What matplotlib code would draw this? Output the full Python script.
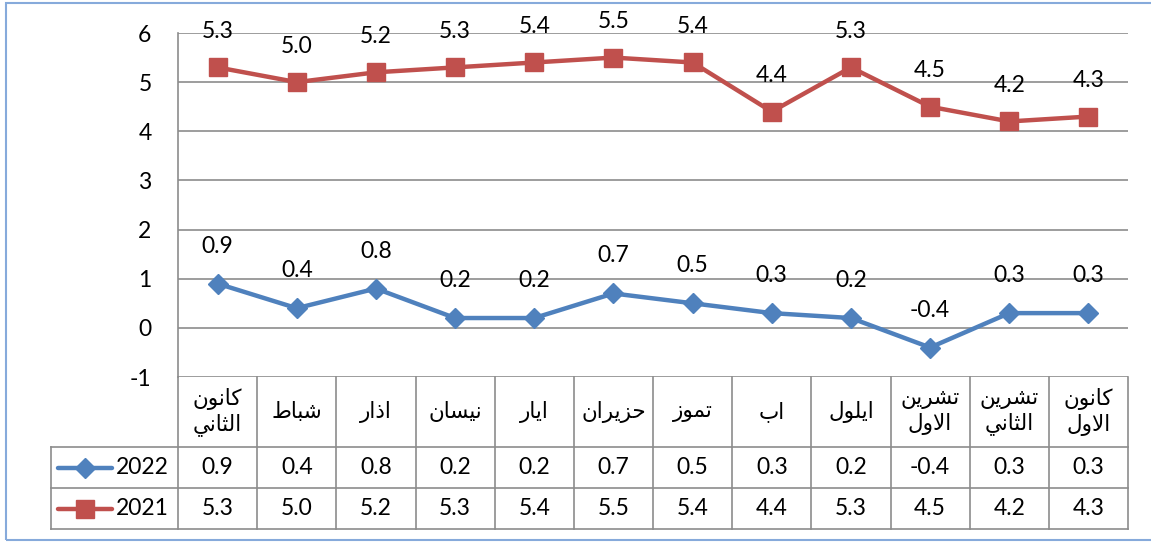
import matplotlib
matplotlib.use('Agg')
import matplotlib.pyplot as plt
from matplotlib.patches import Rectangle

plt.rcParams['font.family'] = ['Lato', 'DejaVu Sans']

months = ['كانون\nالثاني', 'شباط', 'اذار', 'نيسان', 'ايار', 'حزيران',
          'تموز', 'اب', 'ايلول', 'تشرين\nالاول', 'تشرين\nالثاني', 'كانون\nالاول']
y2022 = [0.9, 0.4, 0.8, 0.2, 0.2, 0.7, 0.5, 0.3, 0.2, -0.4, 0.3, 0.3]
y2021 = [5.3, 5.0, 5.2, 5.3, 5.4, 5.5, 5.4, 4.4, 5.3, 4.5, 4.2, 4.3]
yticks = [-1, 0, 1, 2, 3, 4, 5, 6]

BLUE = '#4F81BD'
RED = '#C0504D'
GRID = '#8C8C8C'
FS = 16.5

# formes de presentation arabes: isole, final, initial, median
FORMS = {
    'ا': ('\uFE8D', '\uFE8E', None, None),
    'ب': ('\uFE8F', '\uFE90', '\uFE91', '\uFE92'),
    'ت': ('\uFE95', '\uFE96', '\uFE97', '\uFE98'),
    'ث': ('\uFE99', '\uFE9A', '\uFE9B', '\uFE9C'),
    'ح': ('\uFEA1', '\uFEA2', '\uFEA3', '\uFEA4'),
    'ذ': ('\uFEAB', '\uFEAC', None, None),
    'ر': ('\uFEAD', '\uFEAE', None, None),
    'ز': ('\uFEAF', '\uFEB0', None, None),
    'س': ('\uFEB1', '\uFEB2', '\uFEB3', '\uFEB4'),
    'ش': ('\uFEB5', '\uFEB6', '\uFEB7', '\uFEB8'),
    'ط': ('\uFEC1', '\uFEC2', '\uFEC3', '\uFEC4'),
    'ك': ('\uFED9', '\uFEDA', '\uFEDB', '\uFEDC'),
    'ل': ('\uFEDD', '\uFEDE', '\uFEDF', '\uFEE0'),
    'م': ('\uFEE1', '\uFEE2', '\uFEE3', '\uFEE4'),
    'ن': ('\uFEE5', '\uFEE6', '\uFEE7', '\uFEE8'),
    'و': ('\uFEED', '\uFEEE', None, None),
    'ي': ('\uFEF1', '\uFEF2', '\uFEF3', '\uFEF4'),
}


def dual(c):
    return c in FORMS and FORMS[c][2] is not None


def shape_word(word):
    """Relie les lettres et inverse l'ordre pour un affichage RTL."""
    out = []
    i = 0
    n = len(word)
    while i < n:
        c = word[i]
        prev_j = i > 0 and dual(word[i - 1])
        if c == 'ل' and i + 1 < n and word[i + 1] == 'ا':
            out.append('\uFEFC' if prev_j else '\uFEFB')
            i += 2
            continue
        next_j = i + 1 < n and dual(c) and word[i + 1] in FORMS
        iso, fin, ini, med = FORMS[c]
        if prev_j and next_j:
            out.append(med)
        elif prev_j:
            out.append(fin)
        elif next_j:
            out.append(ini)
        else:
            out.append(iso)
        i += 1
    return ''.join(reversed(out))


def shape(text):
    return '\n'.join(shape_word(w) for w in text.split('\n'))


def main():
    W, H = 1151, 543
    fig = plt.figure(figsize=(W / 100, H / 100), dpi=100)

    x0, x1 = 178, 1128
    ytop, ybot = 33, 377
    tbot = 529
    tleft = 51
    n = len(months)
    colw = (x1 - x0) / n
    lead = (x0 - tleft) / colw

    ax = fig.add_axes([x0 / W, 1 - ybot / H, (x1 - x0) / W, (ybot - ytop) / H])
    xs = list(range(n))
    ax.set_xlim(-0.5, n - 0.5)
    ax.set_ylim(-1, 6)
    for s in ['top', 'right', 'bottom']:
        ax.spines[s].set_visible(False)
    ax.spines['left'].set_color(GRID)
    ax.spines['left'].set_linewidth(1.2)
    ax.set_xticks([])
    ax.set_yticks(yticks)
    ax.set_yticklabels([str(t) for t in yticks], fontsize=FS)
    ax.tick_params(axis='y', length=0, pad=19)
    for t in yticks:
        ax.axhline(t, color=GRID, lw=1.2, zorder=1)

    ax.plot(xs, y2021, color=RED, lw=3.2, marker='s', markersize=12.5, zorder=3, clip_on=False)
    ax.plot(xs, y2022, color=BLUE, lw=3.2, marker='D', markersize=10, zorder=3, clip_on=False)
    for x, v in zip(xs, y2021):
        ax.annotate(f'{v:.1f}', (x, v), xytext=(0, 26), textcoords='offset points',
                    ha='center', va='center', fontsize=FS, clip_on=False)
    for x, v in zip(xs, y2022):
        ax.annotate(f'{v:.1f}', (x, v), xytext=(0, 27), textcoords='offset points',
                    ha='center', va='center', fontsize=FS, clip_on=False)

    # tableau de donnees
    tab = fig.add_axes([tleft / W, 1 - tbot / H, (x1 - tleft) / W, (tbot - ybot) / H])
    tab.set_xlim(-0.5 - lead, n - 0.5)
    rows = [0, 70, 111, 152]
    tab.set_ylim(rows[-1], 0)
    tab.axis('off')
    for r in rows[1:]:
        tab.plot([-0.5 - lead, n - 0.5], [r, r], color=GRID, lw=1.2, clip_on=False)
    for k in range(n + 1):
        tab.plot([k - 0.5, k - 0.5], [0, rows[-1]], color=GRID, lw=1.2, clip_on=False)
    tab.plot([-0.5 - lead, -0.5 - lead], [rows[1], rows[-1]], color=GRID, lw=1.2, clip_on=False)

    mid_m = (rows[0] + rows[1]) / 2
    mid_a = (rows[1] + rows[2]) / 2
    mid_b = (rows[2] + rows[3]) / 2
    for x, m in zip(xs, months):
        tab.text(x, mid_m, shape(m), ha='center', va='center', fontsize=15.5,
                 linespacing=1.2)
    for x, a, b in zip(xs, y2022, y2021):
        tab.text(x, mid_a, f'{a:.1f}', ha='center', va='center', fontsize=FS)
        tab.text(x, mid_b, f'{b:.1f}', ha='center', va='center', fontsize=FS)

    lx0 = -0.5 - lead + 7 / colw
    lx1 = -0.5 - lead + 61 / colw
    tx = -0.5 - 9 / colw
    tab.plot([lx0, lx1], [mid_a, mid_a], color=BLUE, lw=3.2, solid_capstyle='round')
    tab.plot([(lx0 + lx1) / 2], [mid_a], color=BLUE, marker='D', markersize=10)
    tab.text(tx, mid_a, '2022', ha='right', va='center', fontsize=FS)
    tab.plot([lx0, lx1], [mid_b, mid_b], color=RED, lw=3.2, solid_capstyle='round')
    tab.plot([(lx0 + lx1) / 2], [mid_b], color=RED, marker='s', markersize=12.5)
    tab.text(tx, mid_b, '2021', ha='right', va='center', fontsize=FS)

    # cadre du graphique
    fig.patches.append(Rectangle((6 / W, 1 - 540 / H), 1.2, (540 - 3) / H,
                                 transform=fig.transFigure, fill=False,
                                 edgecolor='#86AADB', lw=1.5))

    fig.savefig('out.png', dpi=100)


if __name__ == '__main__':
    main()
